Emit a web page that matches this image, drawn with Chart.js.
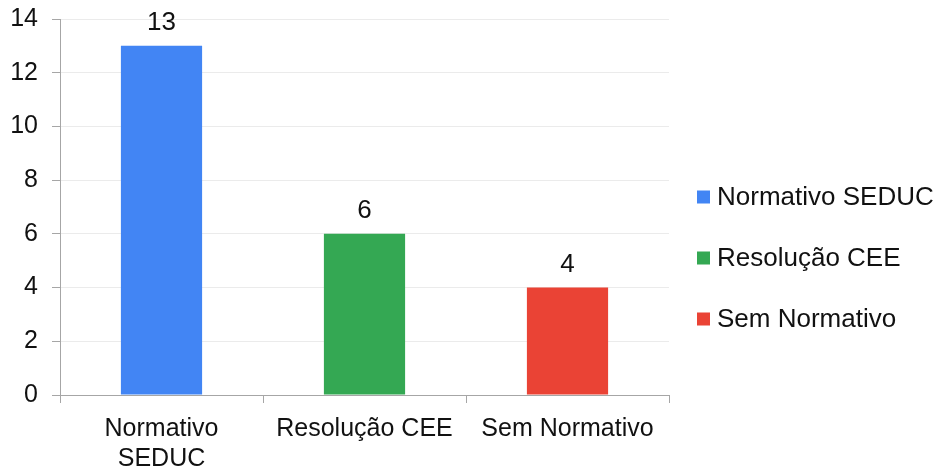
<!DOCTYPE html>
<html>
<head>
<meta charset="utf-8">
<script src="https://cdn.jsdelivr.net/npm/chart.js@4"></script>
<style>
  html, body { margin: 0; padding: 0; background: #fff; }
</style>
</head>
<body>
<canvas id="grafico" width="942" height="469"></canvas>
<script>
// Datos
const categorias = ["Normativo SEDUC", "Resolução CEE", "Sem Normativo"];
const etiquetasEje = [["Normativo", "SEDUC"], "Resolução CEE", "Sem Normativo"];
const valores = [13, 6, 4];
const colores = ["#4285F4", "#34A853", "#EA4335"];
const ticksY = [0, 2, 4, 6, 8, 10, 12, 14];

const fuente = "'Liberation Sans', Arial, sans-serif";
const gris = "#a6a6a6";
const texto = "#111111";

// Valores encima de las barras
const etiquetasValor = {
  id: 'etiquetasValor',
  afterDatasetsDraw(chart) {
    const ctx = chart.ctx;
    const meta = chart.getDatasetMeta(0);
    ctx.save();
    ctx.font = "26px " + fuente;
    ctx.fillStyle = texto;
    ctx.textAlign = 'center';
    ctx.textBaseline = 'alphabetic';
    meta.data.forEach((bar, i) => {
      ctx.fillText(String(valores[i]), bar.x, bar.y - 16);
    });
    ctx.restore();
  }
};

// Leyenda a la derecha
const leyenda = {
  id: 'leyenda',
  afterDraw(chart) {
    const ctx = chart.ctx;
    ctx.save();
    ctx.font = "26px " + fuente;
    ctx.textBaseline = 'middle';
    ctx.textAlign = 'left';
    categorias.forEach((c, i) => {
      const y = 197 + i * 61;
      ctx.fillStyle = colores[i];
      ctx.fillRect(697, y - 6.5, 13, 13);
      ctx.fillStyle = texto;
      ctx.fillText(c, 717, y + 1);
    });
    ctx.restore();
  }
};

new Chart(document.getElementById('grafico'), {
  type: 'bar',
  data: {
    labels: etiquetasEje,
    datasets: [{
      label: 'Total',
      data: valores,
      backgroundColor: colores,
      borderWidth: 0,
      categoryPercentage: 1,
      barPercentage: 0.4
    }]
  },
  options: {
    responsive: false,
    animation: false,
    layout: { padding: { top: 19, right: 273, bottom: 0, left: 0 } },
    plugins: {
      legend: { display: false },
      tooltip: { enabled: false }
    },
    scales: {
      x: {
        afterFit: (s) => { s.height = 74; s.paddingLeft = 0; s.paddingRight = 0; },
        grid: { drawOnChartArea: false, drawTicks: true, tickLength: 8, color: gris, tickColor: gris },
        border: { display: true, color: gris, width: 1 },
        ticks: {
          color: texto,
          font: { family: fuente, size: 25 },
          padding: 11,
          maxRotation: 0,
          autoSkip: false
        }
      },
      y: {
        min: 0,
        max: 14,
        afterFit: (s) => { s.width = 60; s.paddingTop = 0; s.paddingBottom = 0; },
        afterBuildTicks: (s) => { s.ticks = ticksY.map(v => ({ value: v })); },
        grid: { color: "#ebebeb", tickColor: gris, tickLength: 8, drawTicks: true },
        border: { display: true, color: gris, width: 1 },
        ticks: {
          color: texto,
          font: { family: fuente, size: 25 },
          padding: 14
        }
      }
    }
  },
  plugins: [etiquetasValor, leyenda]
});
</script>
</body>
</html>
